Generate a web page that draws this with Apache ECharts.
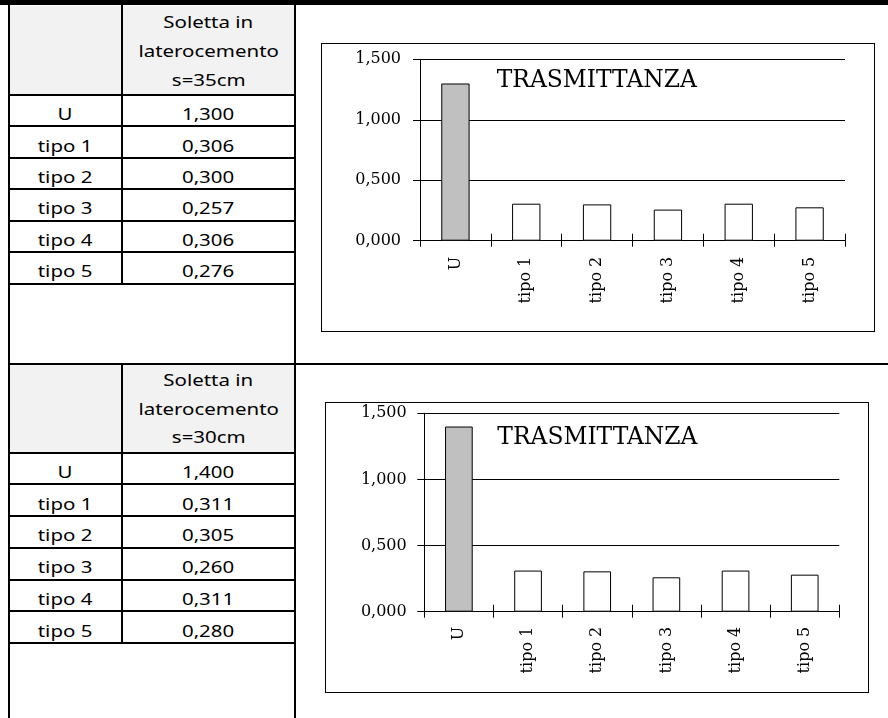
<!DOCTYPE html>
<html><head><meta charset="utf-8">
<script src="https://cdn.jsdelivr.net/npm/echarts@6/dist/echarts.min.js"></script>
<style>
html,body{margin:0;padding:0;background:#fff;width:888px;height:718px;overflow:hidden;position:relative;}
.ln{position:absolute;background:#000;}
.fill{position:absolute;background:#f2f2f2;}
.tx{position:absolute;text-align:center;font-family:'Noto Sans',sans-serif;font-size:16.5px;line-height:22px;color:#000;white-space:nowrap;}
.tx span{display:inline-block;transform:scaleX(1.24);transform-origin:50% 50%;}
.chart{position:absolute;}
.frame{position:absolute;border:1px solid #000;box-sizing:border-box;pointer-events:none;}
</style></head><body>
<div id="c1" class="chart"></div><div id="c2" class="chart"></div>
<script>
// ---- data ----
const categories = ['U', 'tipo 1', 'tipo 2', 'tipo 3', 'tipo 4', 'tipo 5'];
const values35 = [1.300, 0.306, 0.300, 0.257, 0.306, 0.276];
const values30 = [1.400, 0.311, 0.305, 0.260, 0.311, 0.280];
const header35 = ['Soletta in', 'laterocemento', 's=35cm'];
const header30 = ['Soletta in', 'laterocemento', 's=30cm'];
const chartTitle = 'TRASMITTANZA';
const yMin = 0, yMax = 1.5, yStep = 0.5;

const fmt = v => v.toFixed(3).replace('.', ',');

// ---- table drawing (HTML) ----
function box(cls, x, y, w, h) {
  const d = document.createElement('div');
  d.className = cls;
  d.style.left = x + 'px'; d.style.top = y + 'px';
  d.style.width = w + 'px'; d.style.height = h + 'px';
  document.body.appendChild(d);
  return d;
}
function text(str, x, w, baseline) {
  const d = document.createElement('div');
  d.className = 'tx';
  d.style.left = x + 'px'; d.style.width = w + 'px';
  d.style.top = (baseline - 17.4) + 'px';
  const s = document.createElement('span');
  s.textContent = str;
  d.appendChild(s);
  document.body.appendChild(d);
}
const XL = 8.5, XD = 122, XR = 295;
function section(top, hb, rowH, header, vals) {
  box('fill', XL + 1, top + 1, XR - XL - 2, hb - top - 2);
  for (let i = 0; i < header.length; i++) {
    text(header[i], XD + 1, XR - XD - 2, hb - 9 - (header.length - 1 - i) * 28.7);
  }
  let y = hb;
  box('ln', XL - 1, hb - 1, XR - XL + 2, 2);
  for (let i = 0; i < categories.length; i++) {
    const yb = y + rowH;
    box('ln', XL - 1, yb - 1, XR - XL + 2, 2);
    text(categories[i], XL + 1, XD - XL - 2, yb - 6);
    text(fmt(vals[i]), XD + 1, XR - XD - 2, yb - 6);
    y = yb;
  }
  box('ln', XD - 1, top, 2, y - top + 1);
  return y;
}
box('ln', 0, 0, 888, 5);
box('ln', XL - 1, 0, 2, 718);
box('ln', XR - 1, 0, 2, 718);
section(5, 95, 31.45, header35, values35);
box('ln', XL - 1, 363, 888 - XL + 1, 2);
section(364, 452.7, 31.7, header30, values30);

// ---- charts ----
function makeChart(id, vals, pos, grid, titlePos, xMargin, yMargin) {
  const el = document.getElementById(id);
  el.style.left = pos[0] + 'px'; el.style.top = pos[1] + 'px';
  el.style.width = pos[2] + 'px'; el.style.height = pos[3] + 'px';
  box('frame', pos[0], pos[1], pos[2], pos[3]);
  const ch = echarts.init(el, null, { renderer: 'canvas' });
  const serif = 'DejaVu Serif';
  ch.setOption({
    animation: false,
    backgroundColor: '#fff',
    title: {
      text: chartTitle, left: titlePos[0], top: titlePos[1], padding: 0,
      textStyle: { fontFamily: serif, fontSize: 23.4, fontWeight: 'normal', color: '#000' }
    },
    grid: { left: grid[0], top: grid[1], right: grid[2], bottom: grid[3] },
    xAxis: [{
      type: 'category', data: categories, position: 'bottom',
      axisLine: { lineStyle: { color: '#000', width: 1 } },
      axisTick: { show: true, length: 6, lineStyle: { color: '#000' } },
      axisLabel: { rotate: 90, margin: xMargin, interval: 0, fontFamily: serif, fontSize: 16, color: '#000' },
      splitLine: { show: false }
    }, {
      type: 'category', data: categories, position: 'bottom',
      axisLine: { show: false },
      axisTick: { show: true, inside: true, length: 7, lineStyle: { color: '#000' } },
      axisLabel: { show: false }, splitLine: { show: false }
    }],
    yAxis: {
      type: 'value', min: yMin, max: yMax, interval: yStep,
      axisLine: { show: true, lineStyle: { color: '#000', width: 1 } },
      axisTick: { show: true, length: 7, lineStyle: { color: '#000' } },
      axisLabel: { margin: yMargin, formatter: v => fmt(v), fontFamily: serif, fontSize: 16, color: '#000' },
      splitLine: { show: true, lineStyle: { color: '#000', width: 1 } }
    },
    series: [{
      type: 'bar', xAxisIndex: 0,
      data: vals.map((v, i) => ({ value: v, itemStyle: { color: i === 0 ? '#c0c0c0' : '#ffffff' } })),
      barWidth: '40%',
      itemStyle: { borderColor: '#000', borderWidth: 1 }
    }]
  });
}
makeChart('c1', values35, [321, 43, 554, 289], [99, 16.3, 30, 91.3], [175.7, 26], 16, 19);
makeChart('c2', values30, [325, 402, 544, 291], [99.3, 11.3, 29.7, 81.3], [172.3, 24], 15, 17.6);
</script>
</body></html>
